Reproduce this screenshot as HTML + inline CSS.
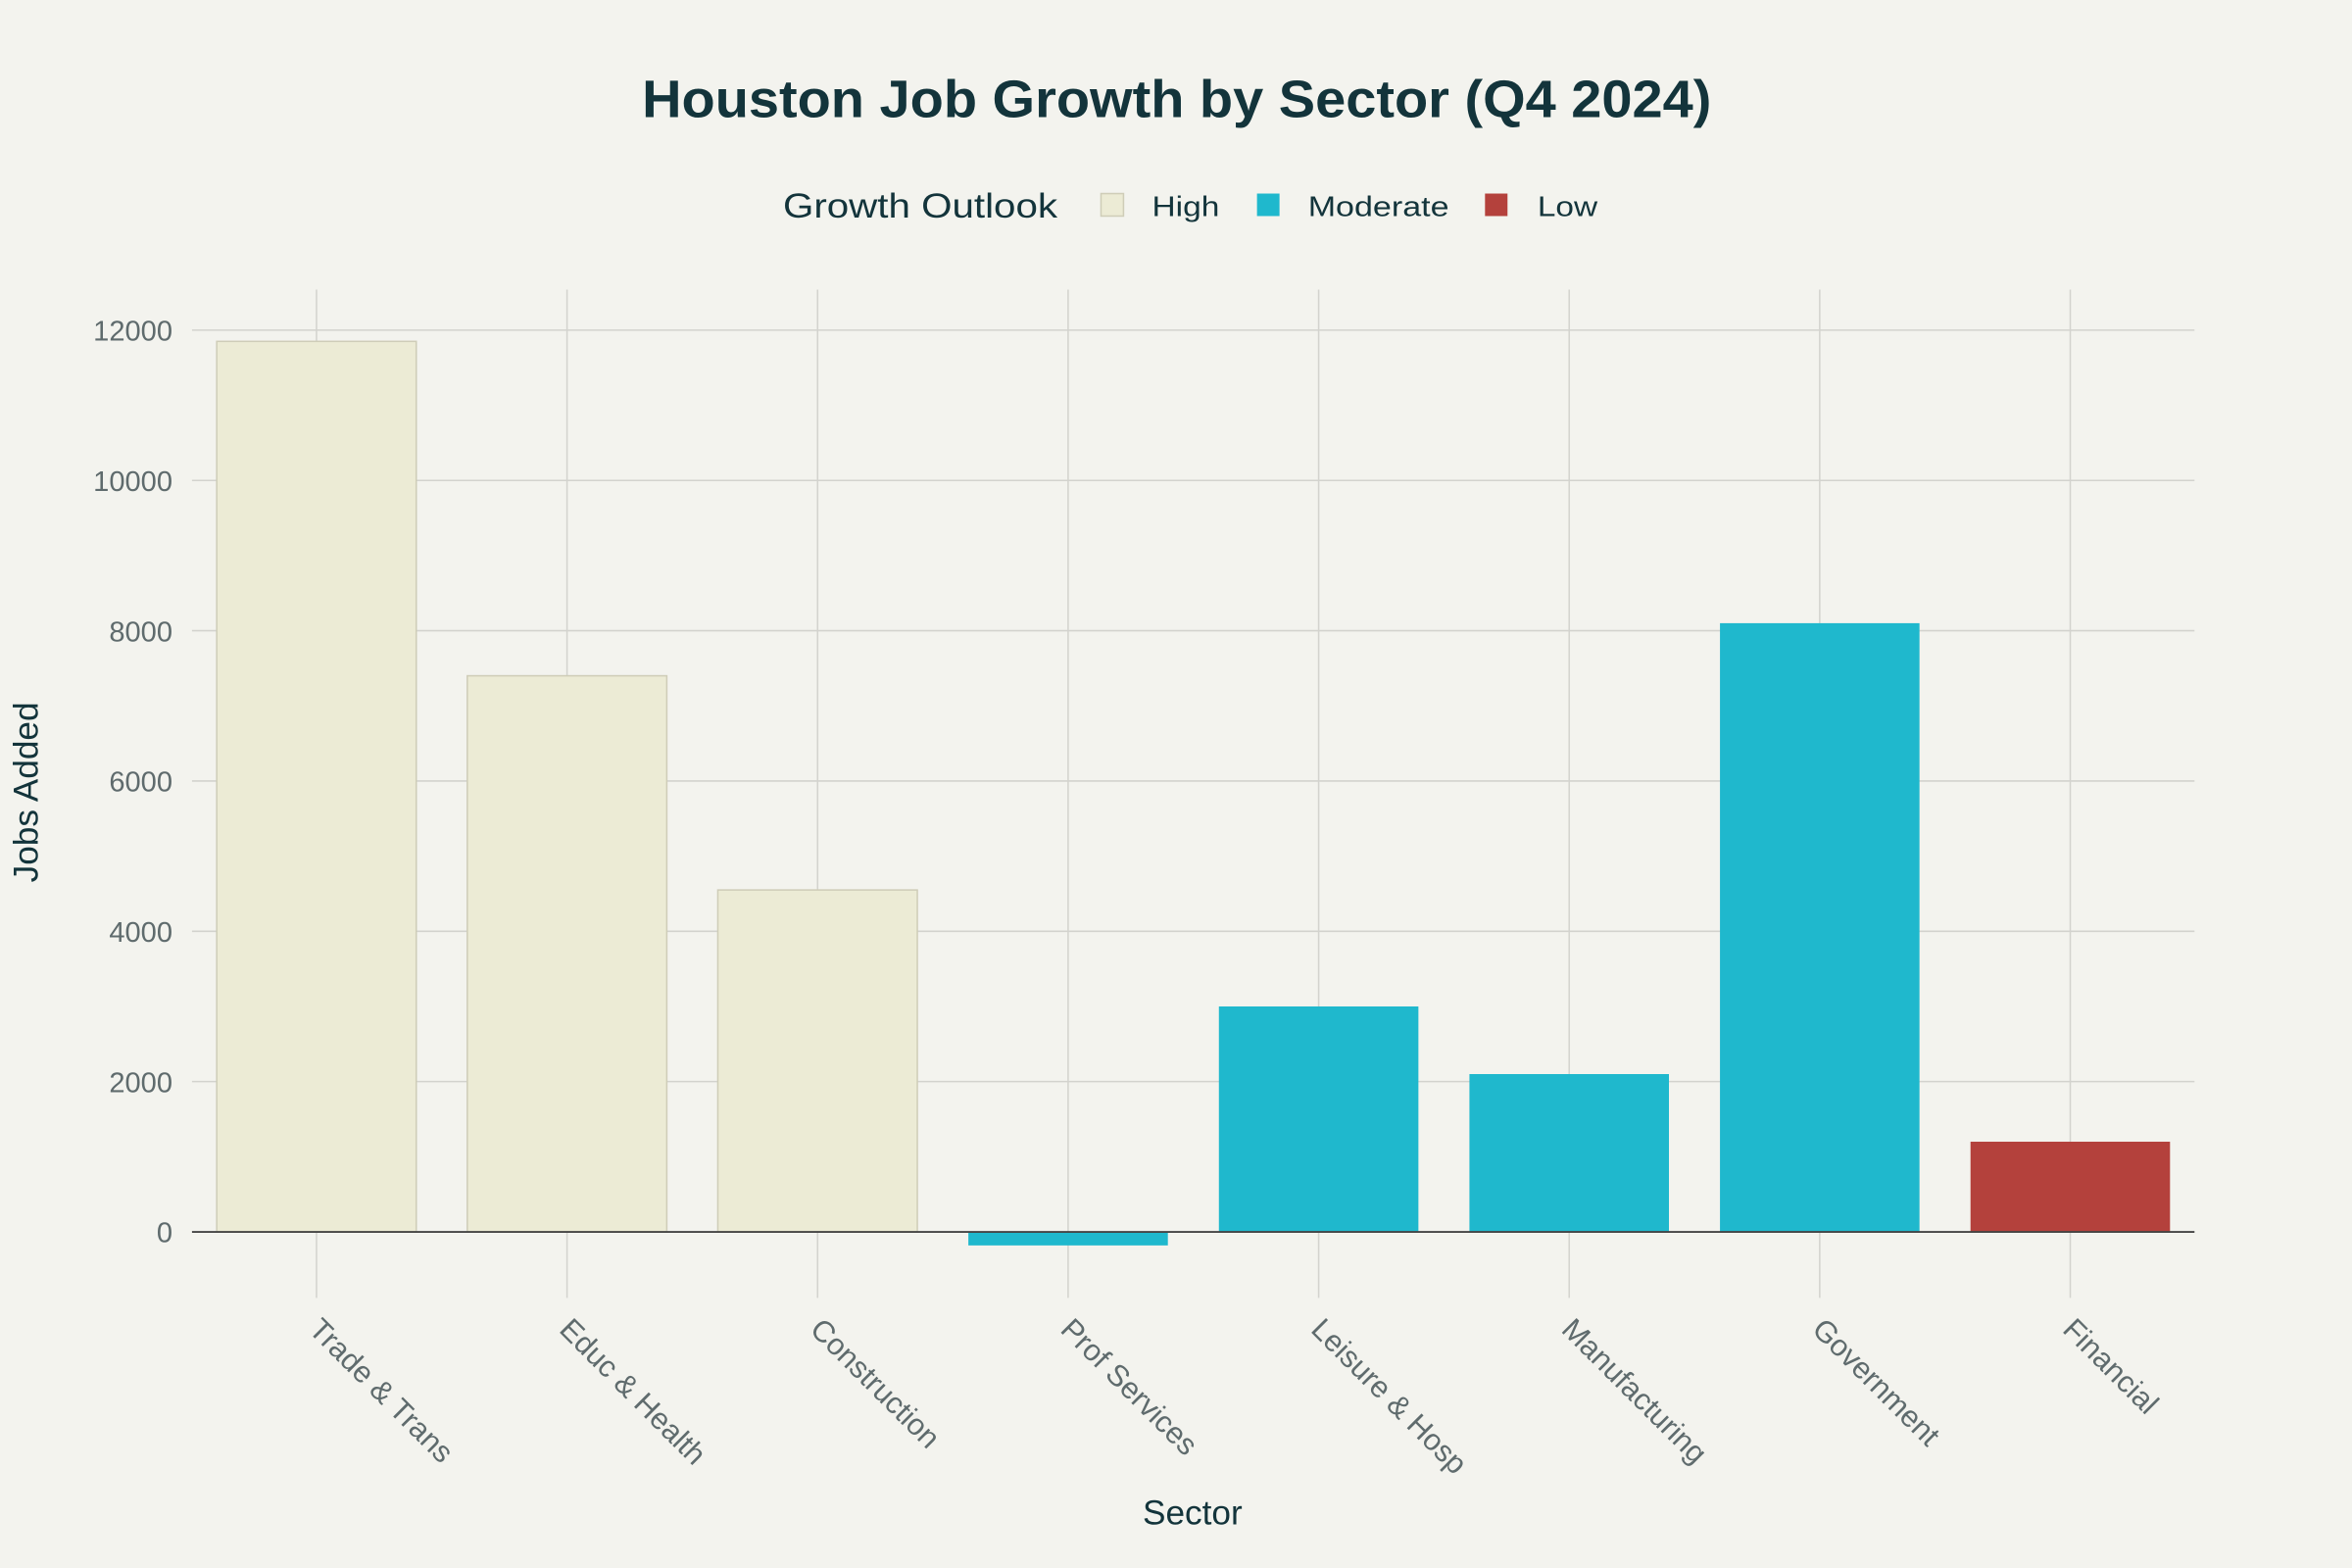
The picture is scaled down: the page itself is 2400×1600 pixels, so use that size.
<!DOCTYPE html>
<html><head><meta charset="utf-8"><style>
html,body{margin:0;padding:0;background:#f3f3ee;}
svg{display:block;font-family:"Liberation Sans",sans-serif;}
</style></head><body>
<svg id="chart" width="2400" height="1600" viewBox="0 0 1568 1045" preserveAspectRatio="none" xmlns="http://www.w3.org/2000/svg">
<rect width="1568" height="1045" fill="#f3f3ee"/>
<text x="428" y="78" textLength="713" lengthAdjust="spacingAndGlyphs" font-size="35" font-weight="bold" fill="#13343b">Houston Job Growth by Sector (Q4 2024)</text>
<g>
<text x="522" y="145" textLength="183" lengthAdjust="spacingAndGlyphs" font-size="23" fill="#13343b">Growth Outlook</text>
<rect x="734" y="129" width="15" height="15" fill="#ecebd5" stroke="#cfcdb8"/>
<text x="768" y="144" textLength="45" lengthAdjust="spacingAndGlyphs" font-size="19" fill="#13343b">High</text>
<rect x="838" y="129" width="15" height="15" fill="#1fb8cd"/>
<text x="872" y="144" textLength="94" lengthAdjust="spacingAndGlyphs" font-size="19" fill="#13343b">Moderate</text>
<rect x="990" y="129" width="15" height="15" fill="#b4413c"/>
<text x="1025" y="144" textLength="40" lengthAdjust="spacingAndGlyphs" font-size="19" fill="#13343b">Low</text>
</g>
<g id="grid"></g><g id="bars"></g><g id="labels"></g>
<text x="795" y="1016" text-anchor="middle" font-size="23" fill="#13343b">Sector</text>
<text transform="translate(25,528) rotate(-90)" text-anchor="middle" font-size="23" fill="#13343b">Jobs Added</text>
</svg>
<script>
const categories=["Trade & Trans","Educ & Health","Construction","Prof Services","Leisure & Hosp","Manufacturing","Government","Financial"];
const values=[11850,7400,4550,-180,3000,2100,8100,1200];
const outlooks=["High","High","High","Moderate","Moderate","Moderate","Moderate","Low"];
const yTicks=[0,2000,4000,6000,8000,10000,12000];
const NS="http://www.w3.org/2000/svg";
const colors={High:"#ecebd5",Moderate:"#1fb8cd",Low:"#b4413c"};
const plotL=128,plotR=1463,plotT=193,plotB=865;
function y(v){return 821-v*(601/12000);}
function x(i){return 211+i*(plotR-plotL)/categories.length*1.0009;}
function mk(tag,attrs,parent){const e=document.createElementNS(NS,tag);for(const k in attrs)e.setAttribute(k,attrs[k]);parent.appendChild(e);return e;}
const grid=document.getElementById('grid'),bars=document.getElementById('bars'),labels=document.getElementById('labels');
yTicks.forEach(t=>{
  const l=mk('line',{x1:plotL,x2:plotR,y1:y(t),y2:y(t),stroke:t===0?"#444":"#d3d3ce","stroke-width":t===0?1.2:1},t===0?labels:grid);
  
  
  const tx=mk('text',{x:115,y:y(t)+7,"text-anchor":"end","font-size":19,fill:"#5f6b6d"},labels);
  tx.textContent=t;
  
  
});
categories.forEach((c,i)=>{
  const cx=x(i);
  const g=mk('line',{x1:cx,x2:cx,y1:plotT,y2:plotB,stroke:"#d3d3ce","stroke-width":1},grid);
  
  
  const v=values[i];
  const top=Math.min(y(v),y(0)),h=Math.abs(y(v)-y(0));
  const r=mk('rect',{x:cx-66.5,y:top,width:133,height:h,fill:colors[outlooks[i]],stroke:outlooks[i]==="High"?"#cfcdb8":"none","stroke-width":1},bars);
  
  
  const t=mk('text',{transform:`translate(${cx-6},${887}) rotate(45)`,"font-size":20,fill:"#5f6b6d"},labels);
  t.textContent=c;
  
  
});
</script>
</body></html>
